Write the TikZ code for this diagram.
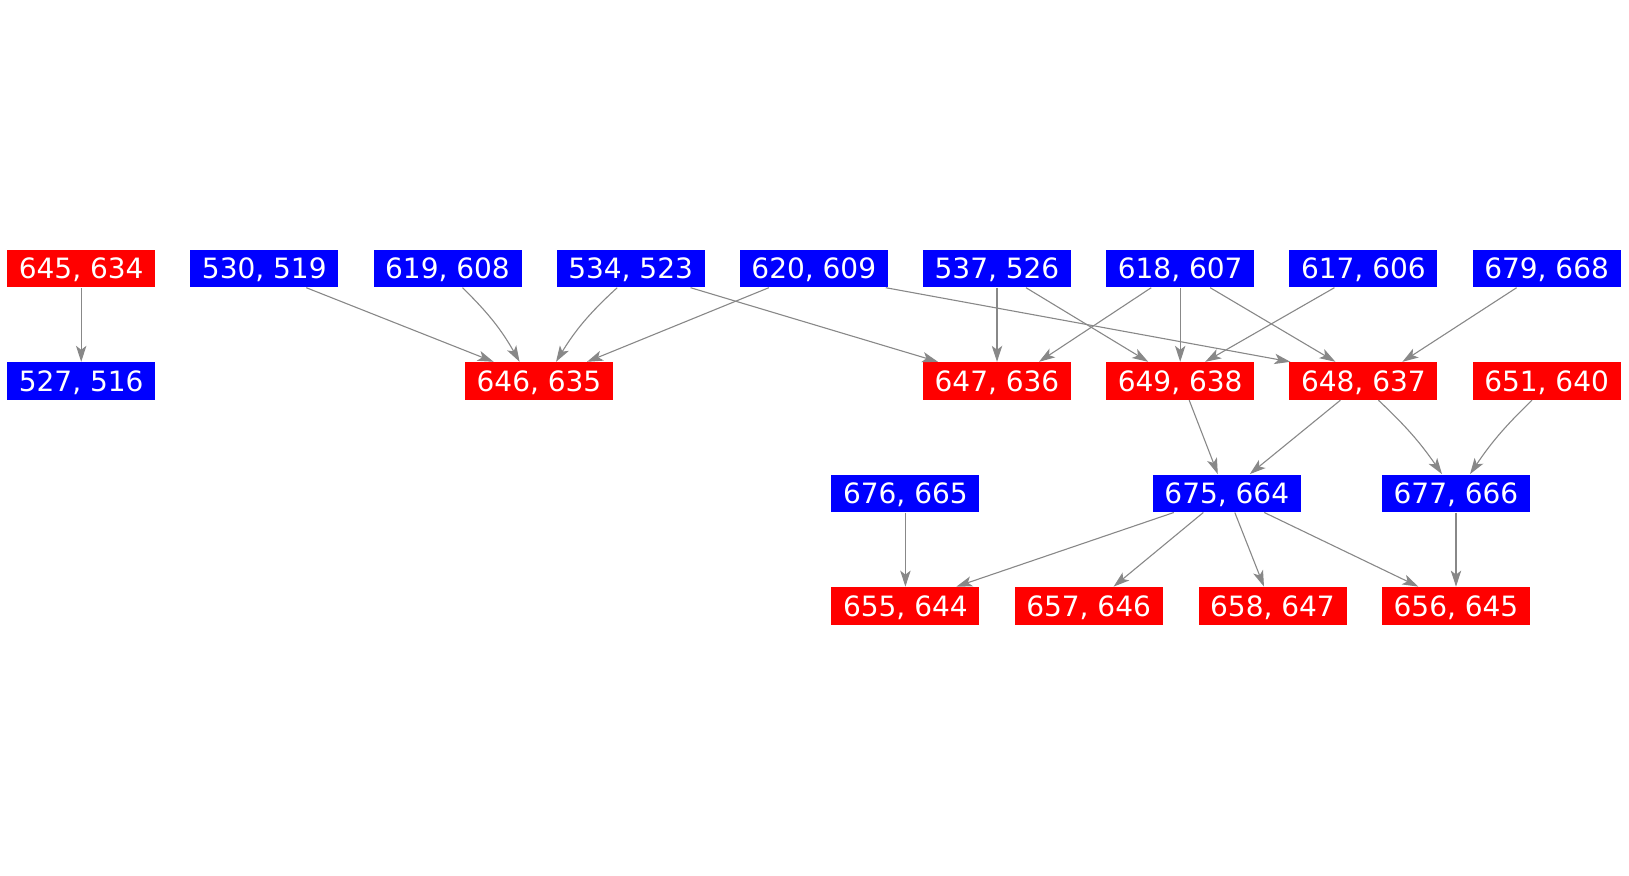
\documentclass[tikz,border=0pt]{standalone}
\usepackage{fontspec}
\setmainfont{DejaVu Sans}
\usetikzlibrary{arrows.meta}
\definecolor{edgegray}{HTML}{888888}
\tikzset{
  nb/.style={rectangle, fill=blue, text=white, minimum width=74pt, minimum height=18.8pt, inner sep=0pt, text height=10.2pt, text depth=0pt, font=\fontsize{14}{16}\selectfont},
  nr/.style={nb, fill=red},
  edge/.style={draw=edgegray, line width=0.55pt, -{Stealth[length=8pt, width=5.2pt, inset=2pt]}}
}
\begin{document}
\begin{tikzpicture}[x=0.5pt, y=-0.5pt]
\useasboundingbox (0,0) rectangle (1629,875);
% row 1
\node[nr] (n645) at (81.2,268.5) {645, 634};
\node[nb] (n530) at (264.3,268.5) {530, 519};
\node[nb] (n619) at (447.5,268.5) {619, 608};
\node[nb] (n534) at (630.6,268.5) {534, 523};
\node[nb] (n620) at (813.8,268.5) {620, 609};
\node[nb] (n537) at (997,268.5) {537, 526};
\node[nb] (n618) at (1180.2,268.5) {618, 607};
\node[nb] (n617) at (1363.4,268.5) {617, 606};
\node[nb] (n679) at (1546.6,268.5) {679, 668};
% row 2
\node[nb] (n527) at (81.2,381) {527, 516};
\node[nr] (n646) at (539,381) {646, 635};
\node[nr] (n647) at (997,381) {647, 636};
\node[nr] (n649) at (1180.2,381) {649, 638};
\node[nr] (n648) at (1363.4,381) {648, 637};
\node[nr] (n651) at (1546.6,381) {651, 640};
% row 3
\node[nb] (n676) at (905.4,493.3) {676, 665};
\node[nb] (n675) at (1226.8,493.3) {675, 664};
\node[nb] (n677) at (1456,493.3) {677, 666};
% row 4
\node[nr] (n655) at (905.4,605.8) {655, 644};
\node[nr] (n657) at (1088.6,605.8) {657, 646};
\node[nr] (n658) at (1272.5,605.8) {658, 647};
\node[nr] (n656) at (1456,605.8) {656, 645};
% edges
\draw[edge] (n645.south) -- (n527.north);
\draw[edge] ([xshift=21pt]n530.south) -- ([xshift=-22.7pt]n646.north);
\draw[edge] ([xshift=7.5pt]n619.south) to[bend left=8] ([xshift=-9.7pt]n646.north);
\draw[edge] ([xshift=-6.7pt]n534.south) to[bend right=8] ([xshift=8.5pt]n646.north);
\draw[edge] ([xshift=-22.5pt]n620.south) -- ([xshift=24pt]n646.north);
\draw[edge] ([xshift=30pt]n534.south) -- ([xshift=-29.5pt]n647.north);
\draw[edge] (n537.south) -- (n647.north);
\draw[edge] ([xshift=-14.5pt]n618.south) -- ([xshift=21pt]n647.north);
\draw[edge] ([xshift=14.5pt]n537.south) -- ([xshift=-16pt]n649.north);
\draw[edge] (n618.south) -- (n649.north);
\draw[edge] ([xshift=-14.5pt]n617.south) -- ([xshift=12.5pt]n649.north);
\draw[edge] ([xshift=36pt]n620.south) -- ([xshift=-36.5pt]n648.north);
\draw[edge] ([xshift=15pt]n618.south) -- ([xshift=-14pt]n648.north);
\draw[edge] ([xshift=-15pt]n679.south) -- ([xshift=19.5pt]n648.north);
\draw[edge] ([xshift=4.5pt]n649.south) -- ([xshift=-4.5pt]n675.north);
\draw[edge] ([xshift=-11.5pt]n648.south) -- ([xshift=11.5pt]n675.north);
\draw[edge] ([xshift=7.5pt]n648.south) to[bend left=6] ([xshift=-7pt]n677.north);
\draw[edge] ([xshift=-7.3pt]n651.south) to[bend right=6] ([xshift=7pt]n677.north);
\draw[edge] (n676.south) -- (n655.north);
\draw[edge] ([xshift=-26.5pt]n675.south) -- ([xshift=25.5pt]n655.north);
\draw[edge] ([xshift=-11.75pt]n675.south) -- ([xshift=12.5pt]n657.north);
\draw[edge] ([xshift=4pt]n675.south) -- ([xshift=-4.25pt]n658.north);
\draw[edge] ([xshift=18.75pt]n675.south) -- ([xshift=-18.85pt]n656.north);
\draw[edge] (n677.south) -- (n656.north);
\end{tikzpicture}
\end{document}
